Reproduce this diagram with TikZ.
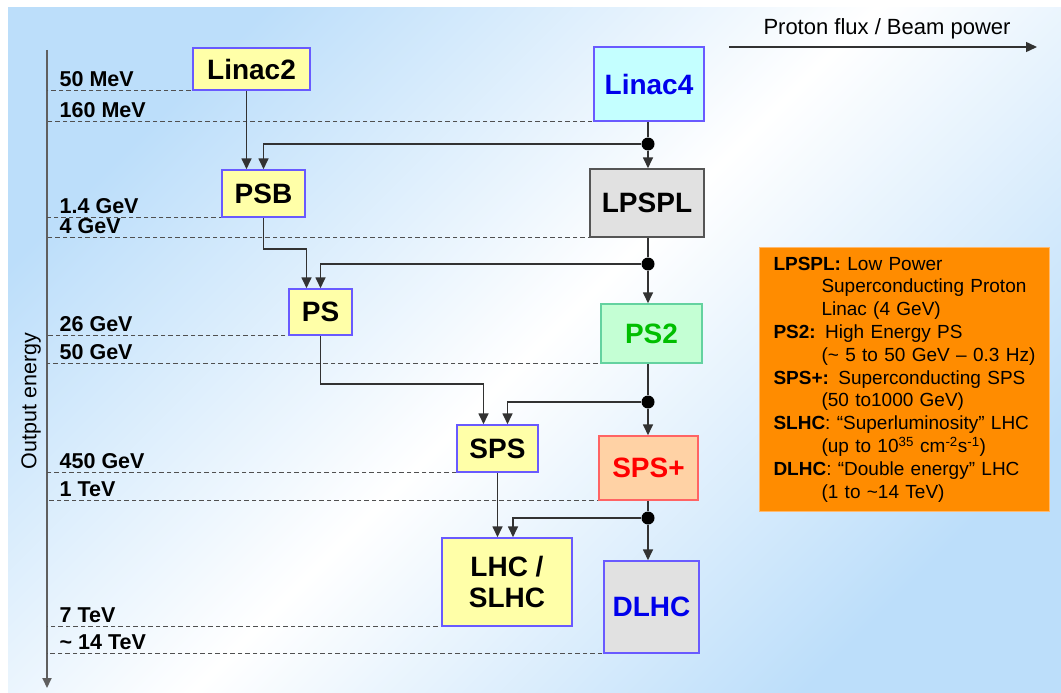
\documentclass[tikz,border=0pt]{standalone}
\usepackage{fontspec}
\setmainfont{Liberation Sans}
\usetikzlibrary{arrows.meta,calc}
\definecolor{bgblue}{RGB}{188,222,250}
\definecolor{boxblue}{RGB}{105,90,255}
\definecolor{boxyellow}{RGB}{255,255,168}
\definecolor{cyanfill}{RGB}{196,255,255}
\definecolor{textblue}{RGB}{0,0,235}
\definecolor{grayfill}{RGB}{225,225,225}
\definecolor{graydraw}{RGB}{85,85,85}
\definecolor{greenfill}{RGB}{196,255,212}
\definecolor{greenline}{RGB}{100,210,160}
\definecolor{greentext}{RGB}{0,190,0}
\definecolor{peachfill}{RGB}{255,210,165}
\definecolor{redline}{RGB}{255,100,100}
\definecolor{legendorange}{RGB}{255,140,0}
\definecolor{legendedge}{RGB}{255,185,110}
\definecolor{linegray}{RGB}{50,50,50}
\definecolor{dashgray}{RGB}{80,80,80}
\definecolor{axisgray}{RGB}{95,95,95}
\pgfdeclarelayer{bg}
\pgfdeclarelayer{lines}
\pgfsetlayers{bg,lines,main}

\begin{document}
\begin{tikzpicture}[x=1pt,y=-1pt,
  box/.style={draw=boxblue,line width=1.5pt,fill=boxyellow,inner sep=0pt,align=center,font=\fontsize{28}{31}\selectfont\bfseries},
  flow/.style={draw=linegray,line width=1.7pt,-{Triangle[length=11pt,width=10pt]}},
  link/.style={draw=linegray,line width=1.7pt},
  joint/.style={circle,fill=black,inner sep=0pt,minimum size=13pt},
  level/.style={draw=dashgray,line width=1.4pt,dash pattern=on 4.5pt off 3pt},
  energy/.style={anchor=base west,xshift=12pt,yshift=4pt,inner sep=0pt,font=\fontsize{21.5}{24}\selectfont\bfseries},
  axisline/.style={draw=axisgray,line width=2pt,-{Triangle[length=10pt,width=9pt]}},
  legendbox/.style={anchor=north west,fill=legendorange,draw=legendedge,line width=1pt,text width=262pt,inner xsep=14pt,minimum height=264pt,align=left,font=\fontsize{19}{22.8}\selectfont}]
\useasboundingbox (0,0) rectangle (1061,693);
\begin{pgfonlayer}{bg}
\shade[top color=bgblue,bottom color=bgblue,middle color=white,shading angle=45] (8,8) rectangle (1061,693);
\end{pgfonlayer}

\coordinate (axtop) at (47,50);
\coordinate (axbot) at (47,688);
\coordinate (fluxa) at (729,47);
\coordinate (fluxb) at (1037,47);

\node[box,minimum width=117pt,minimum height=42pt] (linactwo) at (251.5,69) {Linac2};
\node[box,fill=cyanfill,text=textblue,minimum width=110pt,minimum height=74pt] (linacfour) at (649,84) {Linac4};
\node[box,minimum width=83pt,minimum height=47pt] (psb) at (263.5,193.5) {PSB};
\node[box,draw=graydraw,fill=grayfill,minimum width=114pt,minimum height=68pt] (lpspl) at (647,203) {LPSPL};
\node[box,minimum width=63pt,minimum height=46pt] (ps) at (320.5,312) {PS};
\node[box,draw=greenline,fill=greenfill,text=greentext,minimum width=101pt,minimum height=59pt] (pstwo) at (651.5,333.5) {PS2};
\node[box,minimum width=81pt,minimum height=47pt] (sps) at (497.5,448.5) {SPS};
\node[box,draw=redline,fill=peachfill,text=red,minimum width=99pt,minimum height=64pt] (spsplus) at (648.5,468) {SPS+};
\node[box,minimum width=130pt,minimum height=88pt] (lhc) at (507,582) {LHC /\\SLHC};
\node[box,fill=grayfill,text=textblue,minimum width=95pt,minimum height=92pt] (dlhc) at (651.5,607) {DLHC};

\node[joint] (jone) at (648,144) {};
\node[joint] (jtwo) at (648,264) {};
\node[joint] (jthree) at (648,402) {};
\node[joint] (jfour) at (648,518) {};

\draw[flow] ([xshift=-17pt]psb.north |- linactwo.south) -- ([xshift=-17pt]psb.north);
\draw[link] (linacfour.south -| jone) -- (jone);
\draw[flow] (jone) -- (jone |- lpspl.north);
\draw[flow] (jone) -| (psb.north);
\draw[flow] (psb.south) -- ++(0,31) -| ([xshift=-14pt]ps.north);
\draw[link] (lpspl.south -| jtwo) -- (jtwo);
\draw[flow] (jtwo) -- (jtwo |- pstwo.north);
\draw[flow] (jtwo) -| (ps.north);
\draw[flow] (ps.south) -- ++(0,48) -| ([xshift=-14pt]sps.north);
\draw[link] (pstwo.south -| jthree) -- (jthree);
\draw[flow] (jthree) -- (jthree |- spsplus.north);
\draw[flow] (jthree) -| ([xshift=10pt]sps.north);
\draw[flow] (sps.south) -- (sps.south |- lhc.north);
\draw[link] (spsplus.south -| jfour) -- (jfour);
\draw[flow] (jfour) -- (jfour |- dlhc.north);
\draw[flow] (jfour) -| ([xshift=6pt]lhc.north);

\begin{pgfonlayer}{lines}
\draw[axisline] (axtop) -- (axbot);
\foreach \where/\what in {linactwo/50 MeV, linacfour/160 MeV, psb/1.4 GeV, lpspl/4 GeV, ps/26 GeV, pstwo/50 GeV, sps/450 GeV, spsplus/1 TeV, lhc/7 TeV, dlhc/{\textasciitilde} 14 TeV}
  \draw[level] (\where.south east) -- (\where.south east -| axtop) node[energy] {\what};
\end{pgfonlayer}

\node[rotate=90,font=\fontsize{21.5}{24}\selectfont] (axlabel) at (31,401) {Output energy};
\draw[flow,line width=1.5pt] (fluxa) -- (fluxb);
\node[font=\fontsize{22}{26}\selectfont] (fluxlabel) at (887,29) {Proton flux / Beam power};

\node[legendbox] (legend) at (759,247) {\textbf{LPSPL:} Low Power\\
\hspace*{48pt}Superconducting Proton\\
\hspace*{48pt}Linac (4 GeV)\\
\textbf{PS2:} High Energy PS\\
\hspace*{48pt}(\textasciitilde{} 5 to 50 GeV -- 0.3 Hz)\\
\textbf{SPS+:} Superconducting SPS\\
\hspace*{48pt}(50 to1000 GeV)\\
\textbf{SLHC}: “Superluminosity” LHC\\
\hspace*{48pt}(up to 10\textsuperscript{35} cm\textsuperscript{-2}s\textsuperscript{-1})\\
\textbf{DLHC}: “Double energy” LHC\\
\hspace*{48pt}(1 to \textasciitilde14 TeV)};
\end{tikzpicture}
\end{document}
